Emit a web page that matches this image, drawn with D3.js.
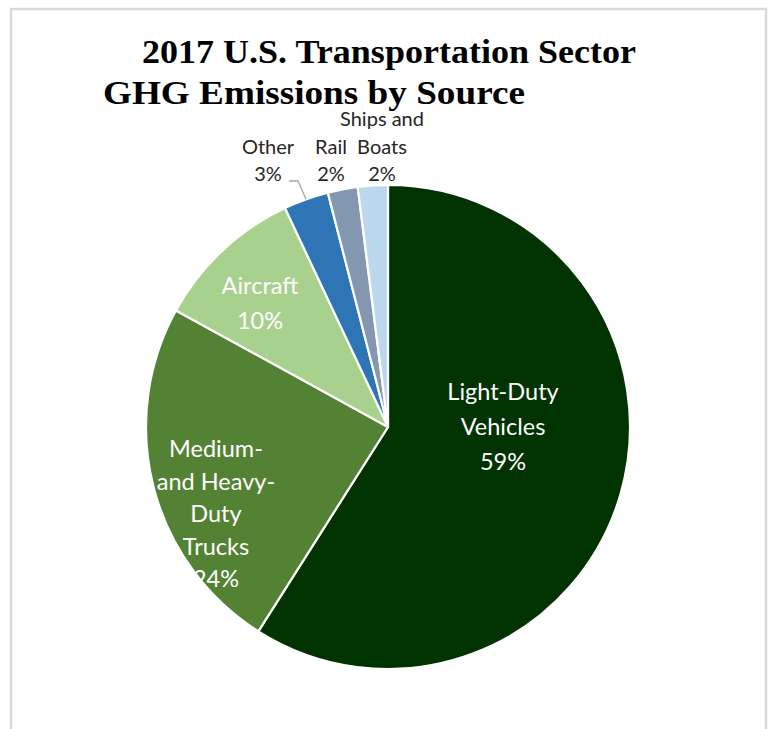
<!DOCTYPE html>
<html>
<head>
<meta charset="utf-8">
<script src="https://cdn.jsdelivr.net/npm/d3@7"></script>
<style>
  html, body { margin: 0; padding: 0; background: #fff; }
  svg { display: block; }
</style>
</head>
<body>
<svg id="chart" width="770" height="729"></svg>
<script>
// 2017 U.S. transportation sector greenhouse-gas emissions, share by source
const categories = ["Light-Duty Vehicles", "Medium- and Heavy-Duty Trucks", "Aircraft", "Other", "Rail", "Ships and Boats"];
const shares = [59, 24, 10, 3, 2, 2];
const colors = ["#003300", "#548235", "#A9D18E", "#2E75B6", "#8497B0", "#BDD7EE"];
const titleLines = ["2017 U.S. Transportation Sector", "GHG Emissions by Source"];

const svg = d3.select("#chart");

// outer chart frame
svg.append("rect")
  .attr("x", 11).attr("y", 9)
  .attr("width", 755).attr("height", 740)
  .attr("fill", "#fff")
  .attr("stroke", "#d9d9d9")
  .attr("stroke-width", 2.5);

// title
const titleFont = "'Liberation Serif', 'Times New Roman', serif";
const titlePos = [{ x: 142, y: 63, w: 494 }, { x: 103, y: 104, w: 422 }];
titleLines.forEach((t, i) => {
  svg.append("text")
    .attr("x", titlePos[i].x).attr("y", titlePos[i].y)
    .attr("font-family", titleFont)
    .attr("font-weight", "bold")
    .attr("font-size", 33)
    .attr("textLength", titlePos[i].w)
    .attr("lengthAdjust", "spacingAndGlyphs")
    .attr("fill", "#000")
    .text(t);
});

// pie
const cx = 388, cy = 427, radius = 242;
const data = categories.map((c, i) => ({ category: c, value: shares[i], color: colors[i] }));
const pie = d3.pie().sort(null).value(d => d.value);
const arc = d3.arc().innerRadius(0).outerRadius(radius);

const g = svg.append("g").attr("transform", `translate(${cx},${cy})`);
g.selectAll("path")
  .data(pie(data))
  .join("path")
  .attr("d", arc)
  .attr("fill", d => d.data.color)
  .attr("stroke", "#fff")
  .attr("stroke-width", 2.2)
  .attr("stroke-linejoin", "round");

// data labels (category name lines + percentage)
const labelFont = "Lato, 'Open Sans', sans-serif";
const labels = [
  { lines: ["Light-Duty", "Vehicles"], x: 503, y: 391, dy: 35, color: "#fff" },
  { lines: ["Medium-", "and Heavy-", "Duty", "Trucks"], x: 216, y: 448, dy: 32.5, color: "#fff" },
  { lines: ["Aircraft"], x: 260, y: 285, dy: 35, color: "#fff" },
  { lines: ["Other"], x: 268, y: 146, dy: 27, color: "#262626" },
  { lines: ["Rail"], x: 331, y: 146, dy: 27, color: "#262626" },
  { lines: ["Ships and", "Boats"], x: 382, y: 118, dy: 28, color: "#262626" }
];

labels.forEach((lab, i) => {
  const all = lab.lines.concat([shares[i] + "%"]);
  const t = svg.append("text")
    .attr("font-family", labelFont)
    .attr("font-size", i < 3 ? 23.5 : 20)
    .attr("fill", lab.color)
    .attr("text-anchor", "middle");
  all.forEach((line, j) => {
    let y = lab.y + j * lab.dy;
    if (i === 5 && j === 2) y = 173;
    t.append("tspan")
      .attr("x", lab.x)
      .attr("y", y)
      .attr("dominant-baseline", "central")
      .text(line);
  });
});

// leader line for the "Other" label
const otherArc = pie(data)[3];
const mid = (otherArc.startAngle + otherArc.endAngle) / 2;
const edge = [cx + radius * Math.sin(mid), cy - radius * Math.cos(mid)];
svg.append("path")
  .attr("d", d3.line()([[289, 181], [298, 181], edge]))
  .attr("fill", "none")
  .attr("stroke", "#a6a6a6")
  .attr("stroke-width", 1.3);
</script>
</body>
</html>
